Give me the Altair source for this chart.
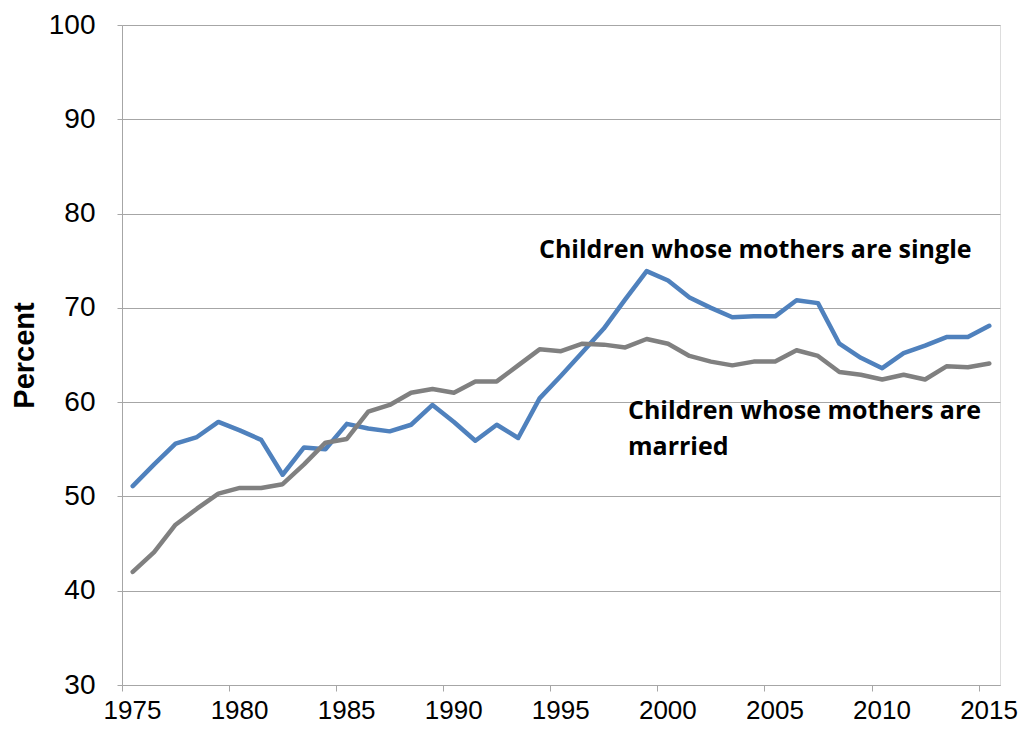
import altair as alt
import pandas as pd

years = list(range(1975, 2016))
single = [51.1, 53.4, 55.6, 56.3, 57.9, 57.0, 56.0, 52.3, 55.2, 55.0,
          57.7, 57.2, 56.9, 57.6, 59.7, 57.9, 55.9, 57.6, 56.2, 60.4,
          62.8, 65.3, 67.8, 70.9, 73.9, 72.9, 71.1, 70.0, 69.0, 69.1,
          69.1, 70.8, 70.5, 66.2, 64.7, 63.6, 65.2, 66.0, 66.9, 66.9, 68.1]
married = [42.0, 44.1, 47.0, 48.7, 50.3, 50.9, 50.9, 51.3, 53.4, 55.7,
           56.1, 59.0, 59.7, 61.0, 61.4, 61.0, 62.2, 62.2, 63.9, 65.6,
           65.4, 66.2, 66.1, 65.8, 66.7, 66.2, 64.9, 64.3, 63.9, 64.3,
           64.3, 65.5, 64.9, 63.2, 62.9, 62.4, 62.9, 62.4, 63.8, 63.7, 64.1]
series_names = ["single", "married"]
series_colors = ["#4f81bd", "#808080"]
x_ticks = [1975, 1980, 1985, 1990, 1995, 2000, 2005, 2010, 2015]
y_ticks = [30, 40, 50, 60, 70, 80, 90, 100]
single_label = "Children whose mothers are single"
married_label = ["Children whose mothers are", "married"]

rows = []
for y, s, m in zip(years, single, married):
    rows.append({"year": y, "series": "single", "value": s})
    rows.append({"year": y, "series": "married", "value": m})
df = pd.DataFrame(rows)

grid_col = "#a6a6a6"

lines = alt.Chart(df).transform_calculate(
    xpos="datum.year + 0.5"
).mark_line(strokeWidth=4.5, strokeJoin="round", strokeCap="round").encode(
    x=alt.X("xpos:Q",
            scale=alt.Scale(domain=[1975, 2016], nice=False, zero=False),
            axis=alt.Axis(values=x_ticks, format="d", grid=False, title=None,
                          tickSize=6, tickColor=grid_col, domainColor=grid_col,
                          labelOffset=10, labelFontSize=26, labelPadding=6,
                          labelFont="Liberation Sans", labelColor="#000000",
                          labelFlush=False)),
    y=alt.Y("value:Q",
            scale=alt.Scale(domain=[30, 100], nice=False, zero=False),
            axis=alt.Axis(values=y_ticks, grid=True, gridColor=grid_col,
                          title="Percent", titleFontSize=29, titleFontWeight="bold",
                          titleFont="Liberation Sans", titleColor="#000000",
                          titlePadding=9, tickSize=5, tickColor=grid_col,
                          domainColor=grid_col, labelFontSize=28, labelPadding=22,
                          labelFont="Liberation Sans", labelColor="#000000")),
    color=alt.Color("series:N", scale=alt.Scale(domain=series_names, range=series_colors),
                    legend=None),
    detail="series:N",
)

text_single = alt.Chart(pd.DataFrame({"label": [single_label]})).mark_text(
    align="left", baseline="alphabetic", fontSize=25, fontWeight="bold",
    font="Open Sans", color="#000000"
).encode(x=alt.value(417), y=alt.value(233), text="label:N")

text_married = alt.Chart(pd.DataFrame({"label": [0]})).mark_text(
    align="left", baseline="alphabetic", fontSize=25, fontWeight="bold",
    font="Open Sans", color="#000000", lineHeight=36
).encode(x=alt.value(506), y=alt.value(394), text=alt.value(married_label))

chart = alt.layer(lines, text_single, text_married).properties(
    width=878, height=660,
    autosize=alt.AutoSizeParams(type="none"),
    padding={"left": 114, "top": 17, "right": 18, "bottom": 39},
).configure_view(stroke=None).configure(background="#ffffff")

chart.save("out.html", embed_options={"renderer": "svg", "actions": False})
